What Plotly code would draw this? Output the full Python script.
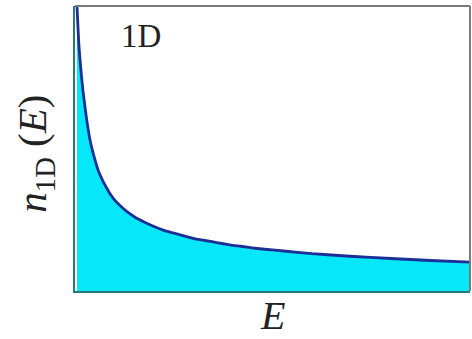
import plotly.graph_objects as go

# Energy samples (fraction of the axis) and the 1D density of states
energy = [0.005, 0.010, 0.015, 0.020, 0.028, 0.038, 0.051, 0.060, 0.071, 0.080,
          0.089, 0.100, 0.114, 0.130, 0.152, 0.175, 0.197, 0.225, 0.253, 0.280,
          0.316, 0.350, 0.392, 0.420, 0.456, 0.500, 0.570, 0.600, 0.696, 0.800,
          0.900, 1.0]
density = [1.0, 0.86, 0.775, 0.705, 0.617, 0.530, 0.458, 0.418, 0.385, 0.362,
           0.340, 0.320, 0.300, 0.280, 0.259, 0.242, 0.228, 0.213, 0.202, 0.192,
           0.180, 0.172, 0.162, 0.157, 0.150, 0.144, 0.135, 0.131, 0.122, 0.114,
           0.107, 0.101]

serif = "Liberation Serif, Times New Roman, serif"

fig = go.Figure()
fig.add_trace(go.Scatter(
    x=energy, y=density,
    mode="lines",
    line=dict(color="#1c2f96", width=2.8, shape="spline", smoothing=0.5),
    fill="tozeroy",
    fillcolor="#06e8fa",
    hoverinfo="skip",
    showlegend=False,
))

axis_common = dict(showgrid=False, zeroline=False, showticklabels=False,
                   ticks="", showline=True, linecolor="#267a78", linewidth=2)

fig.update_layout(
    width=472, height=339,
    margin=dict(l=75, r=2, t=6, b=48),
    paper_bgcolor="white", plot_bgcolor="white",
    xaxis=dict(range=[0, 1], **axis_common),
    yaxis=dict(range=[0, 1], **axis_common),
    shapes=[
        # top and right frame edges
        dict(type="line", xref="paper", yref="paper", x0=0, x1=1, y0=1, y1=1,
             line=dict(color="#7a7a7a", width=2)),
        dict(type="line", xref="paper", yref="paper", x0=1, x1=1, y0=0, y1=1,
             line=dict(color="#7a7a7a", width=2)),
    ],
    annotations=[
        dict(text="1D", xref="paper", yref="paper", x=0.167, y=0.893,
             xanchor="center", yanchor="middle", showarrow=False,
             font=dict(family=serif, size=33, color="#222")),
        dict(text="<i>E</i>", xref="paper", yref="paper", x=0.5, y=-0.085,
             xanchor="center", yanchor="middle", showarrow=False,
             font=dict(family=serif, size=40, color="#222")),
        dict(text="<i>n</i><sub>1D</sub> (<i>E</i>)", xref="paper", yref="paper",
             x=-0.10, y=0.48, xanchor="center", yanchor="middle",
             textangle=-90, showarrow=False,
             font=dict(family=serif, size=41, color="#222")),
    ],
)

fig.write_html("out.html")
